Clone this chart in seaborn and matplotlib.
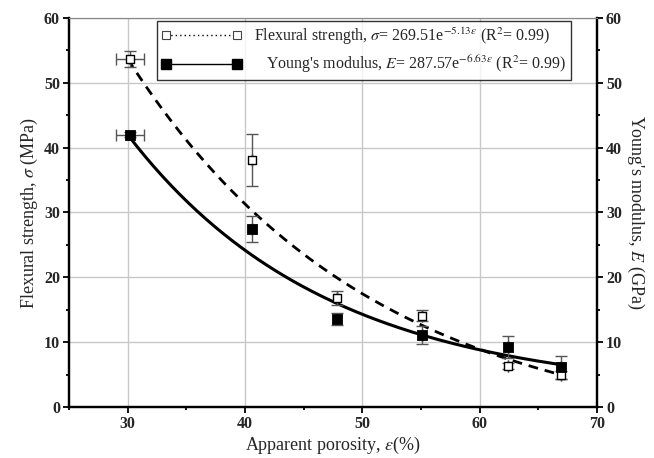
import numpy as np
import pandas as pd
import matplotlib
matplotlib.use("Agg")
import matplotlib.pyplot as plt
from matplotlib.lines import Line2D
from matplotlib.ticker import MultipleLocator
import seaborn as sns

# Measured points: apparent porosity (%) with flexural strength and Young's modulus
porosity = [30.2, 40.6, 47.8, 55.1, 62.4, 66.9]
porosity_err = [1.2, 0.0, 0.0, 0.0, 0.0, 0.0]
flexural = [53.7, 38.1, 16.8, 14.1, 6.3, 4.9]
flexural_err = [1.2, 4.0, 1.1, 0.9, 0.5, 0.6]
modulus = [42.0, 27.4, 13.6, 11.1, 9.2, 6.1]
modulus_err = [0.4, 2.0, 0.9, 1.4, 1.7, 1.8]

# Exponential trend lines  y = a * exp(-b * x) + c  (x in %)
flexural_fit = [247.7, 0.048, -5.0]
modulus_fit = [234.9, 0.059, 2.0]
fit_range = [30.0, 66.8]

flexural_label = r"Flexural strength, $\sigma$= 269.51e$^{-5.13\varepsilon}$ (R$^{2}$= 0.99)"
modulus_label = r"   Young's modulus, $E$= 287.57e$^{-6.63\varepsilon}$ (R$^{2}$= 0.99)"

sns.set_theme(style="white")
plt.rcParams["font.family"] = ["Liberation Serif", "DejaVu Serif"]
plt.rcParams["mathtext.fontset"] = "stix"

fig = plt.figure(figsize=(6.54, 4.58), dpi=100)
ax = fig.add_axes([0.1055, 0.1114, 0.8073, 0.8493])

xs = np.linspace(fit_range[0], fit_range[1], 200)
curves = pd.DataFrame({
    "porosity": np.concatenate([xs, xs]),
    "value": np.concatenate([
        flexural_fit[0] * np.exp(-flexural_fit[1] * xs) + flexural_fit[2],
        modulus_fit[0] * np.exp(-modulus_fit[1] * xs) + modulus_fit[2],
    ]),
    "series": ["flexural"] * len(xs) + ["modulus"] * len(xs),
})
sns.lineplot(data=curves[curves.series == "flexural"], x="porosity", y="value",
             color="black", lw=2.0, ax=ax, legend=False, zorder=3)
ax.lines[-1].set_dashes([3.5, 2.5])
sns.lineplot(data=curves[curves.series == "modulus"], x="porosity", y="value",
             color="black", lw=2.2, ax=ax, legend=False, zorder=3)

err_color = "#555555"
ax.errorbar(porosity, flexural, yerr=flexural_err, xerr=porosity_err, fmt="none",
            ecolor=err_color, elinewidth=1.0, capsize=4, capthick=1.0, zorder=4)
ax.errorbar(porosity, modulus, yerr=modulus_err, xerr=porosity_err, fmt="none",
            ecolor=err_color, elinewidth=1.0, capsize=4, capthick=1.0, zorder=4)

points = pd.DataFrame({"porosity": porosity, "flexural": flexural, "modulus": modulus})
sns.scatterplot(data=points, x="porosity", y="flexural", marker="s", s=40,
                facecolor="white", edgecolor="black", linewidth=1.0, ax=ax, zorder=5)
sns.scatterplot(data=points, x="porosity", y="modulus", marker="s", s=42,
                color="black", edgecolor="black", linewidth=0.6, ax=ax, zorder=5)

ax.set_xlim(25, 70)
ax.set_ylim(0, 60)
ax.xaxis.set_major_locator(MultipleLocator(10))
ax.xaxis.set_minor_locator(MultipleLocator(5))
ax.yaxis.set_major_locator(MultipleLocator(10))
ax.yaxis.set_minor_locator(MultipleLocator(5))
ax.set_xticks([30, 40, 50, 60, 70])
ax.grid(True, which="major", color="#c8c8c8", lw=1.0)
ax.set_axisbelow(True)

ax.set_xlabel(r"Apparent porosity, $\varepsilon$(%)", fontsize=13, labelpad=2)
ax.set_ylabel(r"Flexural strength, $\sigma$ (MPa)", fontsize=13, labelpad=3)

ax2 = ax.twinx()
ax2.set_ylim(0, 60)
ax2.yaxis.set_major_locator(MultipleLocator(10))
ax2.yaxis.set_minor_locator(MultipleLocator(5))
ax2.set_ylabel(r"Young's modulus, $E$ (GPa)", fontsize=13, rotation=270, labelpad=17)

for a in (ax, ax2):
    for side in ("left", "right", "bottom"):
        a.spines[side].set_color("black")
        a.spines[side].set_linewidth(1.6)
    a.spines["top"].set_color("#888888")
    a.spines["top"].set_linewidth(0.8)
ax.tick_params(axis="both", which="major", direction="out", length=4.5, width=1.3,
               labelsize=11.5, pad=2, left=True, bottom=True, right=False, top=False, color="black")
ax.tick_params(axis="both", which="minor", direction="out", length=2.5, width=1.3,
               left=True, bottom=True, right=False, top=False, color="black")
ax2.tick_params(axis="y", which="major", direction="out", length=4.5, width=1.3,
                labelsize=11.5, pad=2, right=True, color="black")
ax2.tick_params(axis="y", which="minor", direction="out", length=2.5, width=1.3,
                right=True, color="black")
for lab in ax.get_xticklabels() + ax.get_yticklabels() + ax2.get_yticklabels():
    lab.set_fontweight("bold")

handles = [
    Line2D([], [], color="black", ls=(3.0, (1.0, 2.2)), lw=1.0, marker="s", ms=6.0,
           mfc="white", mec="#444444", mew=0.8),
    Line2D([], [], color="black", ls="-", lw=1.0, marker="s", ms=6.5,
           mfc="black", mec="black"),
]
leg = ax.legend(handles, [flexural_label, modulus_label], loc="upper right",
                bbox_to_anchor=(0.951, 0.993), numpoints=2, handlelength=5.0,
                handletextpad=0.8, fontsize=11.5, frameon=True, fancybox=False,
                borderpad=0.3, labelspacing=0.45, borderaxespad=0.0)
leg.get_frame().set_edgecolor("black")
leg.get_frame().set_linewidth(1.0)
leg.set_zorder(10)

fig.savefig("out.png", dpi=100)
